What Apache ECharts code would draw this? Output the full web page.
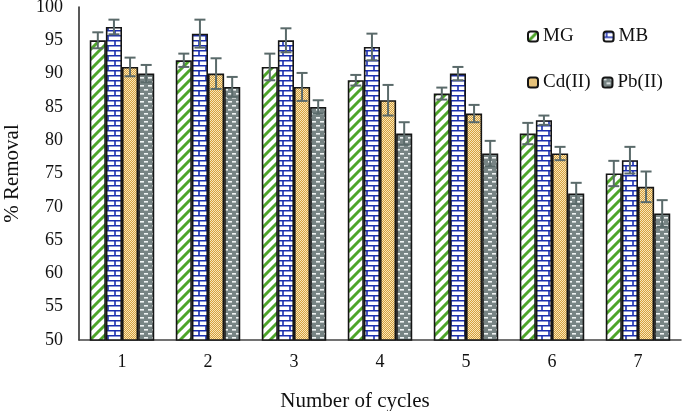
<!DOCTYPE html>
<html>
<head>
<meta charset="utf-8">
<script src="https://cdn.jsdelivr.net/npm/echarts@6/dist/echarts.min.js"></script>
<style>html,body{margin:0;padding:0;background:#fff}#c{width:685px;height:411px}</style>
</head>
<body>
<div id="c"></div>
<script>
var categories = ['1', '2', '3', '4', '5', '6', '7'];
var seriesNames = ['MG', 'MB', 'Cd(II)', 'Pb(II)'];
var mgValues = [95, 92, 91, 89, 87, 81, 75];
var mbValues = [97, 96, 95, 94, 90, 83, 77];
var cdValues = [91, 90, 88, 86, 84, 78, 73];
var pbValues = [90, 88, 85, 81, 78, 72, 69];
var mgErr = [1.2, 1.0, 2.0, 0.8, 0.9, 1.6, 1.9];
var mbErr = [1.1, 2.1, 1.8, 2.0, 1.0, 0.7, 2.0];
var cdErr = [1.4, 2.3, 2.1, 2.3, 1.3, 1.0, 2.3];
var pbErr = [1.3, 1.5, 1.0, 1.7, 1.9, 1.6, 2.0];
var yTicks = {min: 50, max: 100, interval: 5};

function makeCanvas(w, h, draw) {
  var c = document.createElement('canvas');
  c.width = w; c.height = h;
  var ctx = c.getContext('2d');
  draw(ctx, w, h);
  return c;
}
var patMG = makeCanvas(10, 10, function (ctx, w, h) {
  ctx.fillStyle = '#ffffff'; ctx.fillRect(0, 0, w, h);
  ctx.strokeStyle = '#4ea52a'; ctx.lineWidth = 3;
  ctx.beginPath();
  for (var k = -1; k <= 1; k++) {
    ctx.moveTo(k * 10 - 1, h + 1); ctx.lineTo(k * 10 + w + 1, -1);
  }
  ctx.stroke();
});
var patMB = makeCanvas(14, 10, function (ctx, w, h) {
  ctx.fillStyle = '#ffffff'; ctx.fillRect(0, 0, w, h);
  ctx.strokeStyle = '#1c2fae'; ctx.lineWidth = 1.6;
  ctx.beginPath();
  ctx.moveTo(0, 0.8); ctx.lineTo(w, 0.8);
  ctx.moveTo(0, 5.8); ctx.lineTo(w, 5.8);
  ctx.moveTo(3, 0); ctx.lineTo(3, 5);
  ctx.moveTo(10, 5); ctx.lineTo(10, 10);
  ctx.stroke();
});
var patCd = makeCanvas(2, 2, function (ctx, w, h) {
  ctx.fillStyle = '#d6a03c'; ctx.fillRect(0, 0, w, h);
  ctx.fillStyle = '#f8e6ba'; ctx.fillRect(0, 0, 1, 1); ctx.fillRect(1, 1, 1, 1);
});
var patPb = makeCanvas(8, 8, function (ctx, w, h) {
  ctx.fillStyle = '#778484'; ctx.fillRect(0, 0, w, h);
  ctx.fillStyle = '#f0f4f4';
  ctx.fillRect(0, 1, 4, 1.6);
  ctx.fillRect(4, 5, 4, 1.6);
});
var patterns = [patMG, patMB, patCd, patPb];
var values = [mgValues, mbValues, cdValues, pbValues];
var errs = [mgErr, mbErr, cdErr, pbErr];

var series = [];
for (var i = 0; i < 4; i++) {
  series.push({
    name: seriesNames[i], type: 'bar', data: values[i],
    barGap: '0%', barCategoryGap: '25%',
    itemStyle: {color: {image: patterns[i], repeat: 'repeat'}, borderColor: '#151515', borderWidth: 1.6},
    z: 2
  });
}
for (var j = 0; j < 4; j++) {
  (function (si) {
    var d = values[si].map(function (v, k) { return [k, v - errs[si][k], v + errs[si][k]]; });
    series.push({
      type: 'custom', name: 'err' + si, data: d, z: 5, silent: true,
      renderItem: function (params, api) {
        var idx = api.value(0);
        var lo = api.coord([idx, api.value(1)]);
        var hi = api.coord([idx, api.value(2)]);
        var band = api.size([1, 0])[0];
        var bw = band * 0.75 / 4;
        var x = lo[0] + (si - 1.5) * bw;
        var cap = 5.5;
        var st = {stroke: '#5a6a6a', lineWidth: 2};
        return {type: 'group', children: [
          {type: 'line', shape: {x1: x, y1: lo[1], x2: x, y2: hi[1]}, style: st},
          {type: 'line', shape: {x1: x - cap, y1: lo[1], x2: x + cap, y2: lo[1]}, style: st},
          {type: 'line', shape: {x1: x - cap, y1: hi[1], x2: x + cap, y2: hi[1]}, style: st}
        ]};
      },
      encode: {x: 0, y: [1, 2]}
    });
  })(j);
}

var font = '"Liberation Serif", "Times New Roman", serif';
var legendText = {fontFamily: font, fontSize: 19, color: '#111'};
var chart = echarts.init(document.getElementById('c'));
chart.setOption({
  animation: false,
  backgroundColor: '#fff',
  grid: {left: 79, right: 4, top: 7, bottom: 71, containLabel: false, outerBoundsMode: 'none'},
  legend: [
    {data: ['MG', 'MB'], left: 522, top: 22, itemWidth: 10, itemHeight: 10, itemGap: 29, textStyle: legendText},
    {data: ['Cd(II)', 'Pb(II)'], left: 522, top: 68, itemWidth: 10, itemHeight: 10, itemGap: 11, textStyle: legendText}
  ],
  xAxis: {
    type: 'category', data: categories,
    name: 'Number of cycles', nameLocation: 'middle', nameGap: 51,
    nameTextStyle: {fontFamily: font, fontSize: 21, color: '#111', padding: [0, 50, 0, 0]},
    axisLine: {lineStyle: {color: '#444', width: 1.5}},
    axisTick: {show: false},
    axisLabel: {fontFamily: font, fontSize: 18, color: '#111', margin: 13}
  },
  yAxis: {
    type: 'value', min: yTicks.min, max: yTicks.max, interval: yTicks.interval,
    name: '% Removal', nameLocation: 'middle', nameGap: 56,
    nameTextStyle: {fontFamily: font, fontSize: 21, color: '#111'},
    axisLine: {show: true, lineStyle: {color: '#222', width: 1.5}},
    axisTick: {show: false},
    splitLine: {show: false},
    axisLabel: {fontFamily: font, fontSize: 18, color: '#111', margin: 16}
  },
  series: series
});
</script>
</body>
</html>
